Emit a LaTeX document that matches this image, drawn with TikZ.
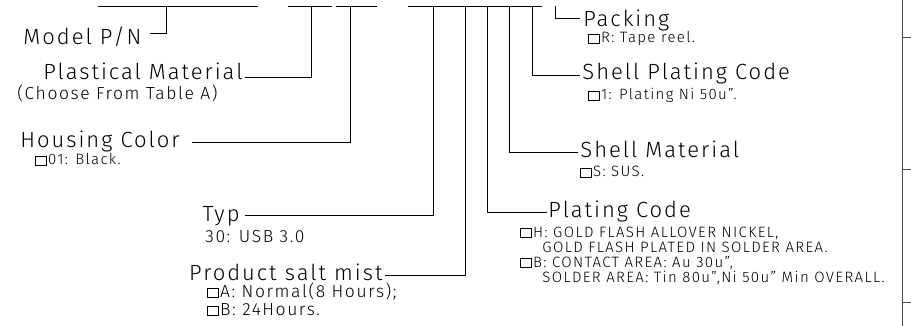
\documentclass[tikz,border=0pt]{standalone}
\usepackage{fontspec}
\setmainfont{Fira Sans}[UprightFont={* Light}, LetterSpace=9]
\usetikzlibrary{positioning}

\newcommand\optbox{{\setlength\fboxsep{0pt}\setlength\fboxrule{0.6pt}\fbox{\rule{0pt}{8pt}\hspace{10pt}}}\kern1.5pt}

\begin{document}
\begin{tikzpicture}[
    x=1pt, y=-1pt,
    line width=0.9pt,
    every node/.style={inner sep=0pt},
    lbig/.style={font=\fontsize{22}{24}\selectfont},
    lmid/.style={font=\fontsize{17.5}{20}\selectfont},
    lsmall/.style={font=\fontsize{15}{17}\selectfont},
    lead/.style={draw=black},
    frame/.style={draw=black!70, line width=1pt}
  ]
  \useasboundingbox (0,0) rectangle (911,326);

  % Part number underlines and taps
  \draw (98,6.5) -- (258,6.5);
  \draw (288,6.5) -- (332,6.5);
  \draw (336,6.5) -- (377,6.5);
  \draw (408,6.5) -- (542,6.5);
  \coordinate (tpn)    at (166,6.5);
  \coordinate (tplast) at (311,6.5);
  \coordinate (thous)  at (350,6.5);
  \coordinate (ttyp)   at (433,6.5);
  \coordinate (tsalt)  at (465,6.5);
  \coordinate (tplat)  at (487,6.5);
  \coordinate (tsmat)  at (509,6.5);
  \coordinate (tspc)   at (532,6.5);
  \coordinate (tpack)  at (555,6.5);

  % Left labels
  \node (pn)    [lbig, anchor=base east] at (142,45) {Model P/N};
  \node (plast) [lbig, anchor=base east] at (243,80) {Plastical Material};
  \node (choose)[lmid, anchor=base west] at (17,100) {(Choose From Table A)};
  \node (hous)  [lbig, anchor=base east] at (180,148) {Housing Color};
  \node (black) [lsmall, anchor=base west] at (35,165) {\optbox 01: Black.};
  \node (typ)   [lbig, anchor=base east] at (240,222) {Typ};
  \node (usb)   [lmid, anchor=base west] at (205,243) {30: USB 3.0};
  \node (salt)  [lbig, anchor=base east] at (383,280) {Product salt mist};
  \node (salta) [lmid, anchor=base west] at (207,297) {\optbox A: Normal(8 Hours);};
  \node (saltb) [lmid, anchor=base west] at (207,315) {\optbox B: 24Hours.};

  % Right labels
  \node (pack)  [lbig, anchor=base west] at (583,27) {Packing};
  \node (tape)  [lsmall, anchor=base west] at (588,43) {\optbox R: Tape reel.};
  \node (spc)   [lbig, anchor=base west] at (582,80) {Shell Plating Code};
  \node (ni)    [lsmall, anchor=base west] at (588,100) {\optbox 1: Plating Ni 50u''.};
  \node (smat)  [lbig, anchor=base west] at (580,158) {Shell Material};
  \node (sus)   [lsmall, anchor=base west] at (580,177) {\optbox S: SUS.};
  \node (plat)  [lbig, anchor=base west] at (548,218) {Plating Code};
  \node (plath) [lsmall, anchor=base west] at (520,237) {\optbox H: GOLD FLASH ALLOVER NICKEL,};
  \node (plath2)[lsmall, anchor=base west] at (542,252) {GOLD FLASH PLATED IN SOLDER AREA.};
  \node (platb) [lsmall, anchor=base west] at (520,267) {\optbox B: CONTACT AREA: Au 30u'',};
  \node (platb2)[lsmall, anchor=base west] at (542,282) {SOLDER AREA: Tin 80u'',Ni 50u'' Min OVERALL.};

  % Leaders
  \draw[lead] (tpn)    |- ([xshift=8pt, yshift=12pt]pn.base east);
  \draw[lead] (tplast) |- ([xshift=2pt, yshift=3pt]plast.base east);
  \draw[lead] (thous)  |- ([xshift=12pt, yshift=6pt]hous.base east);
  \draw[lead] (ttyp)   |- ([xshift=5pt, yshift=7pt]typ.base east);
  \draw[lead] (tsalt)  |- ([xshift=2pt, yshift=5pt]salt.base east);
  \draw[lead] (tplat)  |- ([xshift=-1pt, yshift=6pt]plat.base west);
  \draw[lead] (tsmat)  |- ([xshift=-2pt, yshift=6pt]smat.base west);
  \draw[lead] (tspc)   |- ([xshift=-2pt, yshift=5pt]spc.base west);
  \draw[lead] (tpack)  |- ([xshift=-3pt, yshift=9pt]pack.base west);

  % Sheet border
  \draw[frame] (902,0) -- (902,326);
  \draw[frame] (902,38) -- (911,38);
  \draw[frame] (902,170) -- (911,170);
  \draw[frame] (902,302) -- (911,302);
\end{tikzpicture}
\end{document}
